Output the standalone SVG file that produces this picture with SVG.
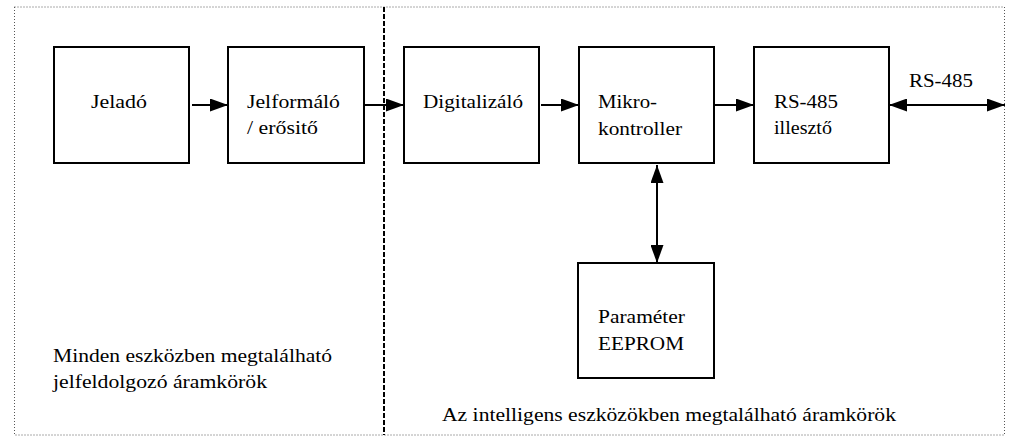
<svg xmlns="http://www.w3.org/2000/svg" width="1009" height="437" viewBox="0 0 1009 437">
  <style>
    .box { fill: #fff; stroke: #000; stroke-width: 2; }
    .t { font-family: "Liberation Serif", "Times New Roman", "DejaVu Serif", serif; font-size: 18px; fill: #000; }
    .conn { stroke: #000; stroke-width: 2; fill: none; }
  </style>
  <defs>
    <marker id="ah" viewBox="0 0 18 13" refX="18" refY="6.5" markerWidth="18" markerHeight="13" markerUnits="userSpaceOnUse" orient="auto-start-reverse">
      <path d="M0,0 L18,6.5 L0,13 Z" fill="#000"/>
    </marker>
  </defs>
  <rect x="0" y="0" width="1009" height="437" fill="#fff"/>

  <g id="frame">
    <rect x="14.5" y="7" width="990" height="428" fill="none" stroke="#555" stroke-width="1" stroke-dasharray="1,2"/>
    <line x1="384" y1="7" x2="384" y2="435" stroke="#000" stroke-width="2" stroke-dasharray="5,2"/>
  </g>

  <g id="connectors">
    <line class="conn" x1="192" y1="105" x2="228" y2="105" marker-end="url(#ah)"/>
    <line class="conn" x1="364" y1="105" x2="404" y2="105" marker-end="url(#ah)"/>
    <line class="conn" x1="541" y1="105" x2="579" y2="105" marker-end="url(#ah)"/>
    <line class="conn" x1="714" y1="105" x2="754" y2="105" marker-end="url(#ah)"/>
    <line class="conn" x1="889" y1="105" x2="1005" y2="105" marker-start="url(#ah)" marker-end="url(#ah)"/>
    <line class="conn" x1="657" y1="165" x2="657" y2="263" marker-start="url(#ah)" marker-end="url(#ah)"/>
  </g>

  <g id="jelado">
    <rect class="box" x="54" y="47" width="135" height="116"/>
    <text class="t" font-family="Liberation Serif, serif" x="91" y="108" textLength="56" lengthAdjust="spacingAndGlyphs">Jeladó</text>
  </g>
  <g id="jelformalo">
    <rect class="box" x="228" y="47" width="136" height="116"/>
    <text class="t" x="247" y="108" textLength="93" lengthAdjust="spacingAndGlyphs">Jelformáló</text>
    <text class="t" x="247" y="134" textLength="71" lengthAdjust="spacingAndGlyphs">/ erősitő</text>
  </g>
  <g id="digitalizalo">
    <rect class="box" x="404" y="47" width="135" height="116"/>
    <text class="t" x="423" y="108" textLength="100" lengthAdjust="spacingAndGlyphs">Digitalizáló</text>
  </g>
  <g id="mikrokontroller">
    <rect class="box" x="579" y="47" width="135" height="116"/>
    <text class="t" x="598" y="108" textLength="59" lengthAdjust="spacingAndGlyphs">Mikro-</text>
    <text class="t" x="598" y="135" textLength="84" lengthAdjust="spacingAndGlyphs">kontroller</text>
  </g>
  <g id="rs485-illeszto">
    <rect class="box" x="754" y="47" width="135" height="116"/>
    <text class="t" x="774" y="108" textLength="64" lengthAdjust="spacingAndGlyphs">RS-485</text>
    <text class="t" x="774" y="134" textLength="58" lengthAdjust="spacingAndGlyphs">illesztő</text>
  </g>
  <g id="eeprom">
    <rect class="box" x="578" y="263" width="136" height="115"/>
    <text class="t" x="598" y="323" textLength="87" lengthAdjust="spacingAndGlyphs">Paraméter</text>
    <text class="t" x="598" y="350" textLength="86" lengthAdjust="spacingAndGlyphs">EEPROM</text>
  </g>
  <g id="labels">
    <text class="t" x="909" y="87" textLength="64" lengthAdjust="spacingAndGlyphs">RS-485</text>
    <text class="t" x="53" y="362" textLength="279" lengthAdjust="spacingAndGlyphs">Minden eszközben megtalálható</text>
    <text class="t" x="53" y="388" textLength="214" lengthAdjust="spacingAndGlyphs">jelfeldolgozó áramkörök</text>
    <text class="t" x="442" y="421" textLength="454" lengthAdjust="spacingAndGlyphs">Az intelligens eszközökben megtalálható áramkörök</text>
  </g>
</svg>
